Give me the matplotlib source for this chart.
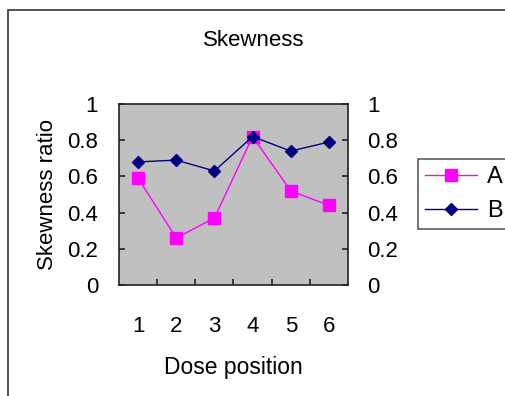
import matplotlib
matplotlib.use('Agg')
import matplotlib.pyplot as plt
from matplotlib.patches import Rectangle
from matplotlib.ticker import FixedLocator, NullFormatter

plt.rcParams['font.family'] = ['Liberation Sans', 'DejaVu Sans']

positions = [1, 2, 3, 4, 5, 6]
pos_labels = ['1', '2', '3', '4', '5', '6']
series_a = [0.59, 0.26, 0.37, 0.82, 0.52, 0.44]
series_b = [0.68, 0.69, 0.63, 0.82, 0.74, 0.79]
y_ticks = [0, 0.2, 0.4, 0.6, 0.8, 1]
y_labels = ['0', '0.2', '0.4', '0.6', '0.8', '1']

W, H = 506, 396
fig = plt.figure(figsize=(W / 100, H / 100), dpi=100)

# outer chart border, only left and top edges fall inside the image
fig.patches.append(Rectangle((8 / W, -0.1), 1.2, 1.1 - 10 / H, transform=fig.transFigure,
                             fill=False, edgecolor='#333333', linewidth=1.2))

ax = fig.add_axes([119 / W, 1 - 285 / H, (348 - 119) / W, (285 - 104) / H])
ax.set_facecolor('#c0c0c0')
for s in ax.spines.values():
    s.set_color('#222222')
    s.set_linewidth(1.2)

ax.plot(positions, series_a, color='#ff00ff', lw=1, marker='s', ms=8,
        markerfacecolor='#ff00ff', markeredgecolor='#ff00ff', label='A')
ax.plot(positions, series_b, color='#000080', lw=1, marker='D', ms=6.5,
        markerfacecolor='#000080', markeredgecolor='#000080', label='B')

ax.set_xlim(0.5, 6.5)
ax.set_ylim(0, 1)
ax.xaxis.set_major_locator(FixedLocator([1.5, 2.5, 3.5, 4.5, 5.5]))
ax.xaxis.set_major_formatter(NullFormatter())
ax.xaxis.set_minor_locator(FixedLocator(positions))
ax.set_xticklabels(pos_labels, minor=True)
ax.tick_params(axis='x', which='major', direction='in', length=4.5, width=1.2, color='#222222')
ax.tick_params(axis='x', which='minor', length=0, pad=22, labelsize=16)

ax.set_yticks(y_ticks)
ax.set_yticklabels(y_labels)
ax.tick_params(axis='y', direction='in', length=4.5, width=1.2, color='#222222',
               labelsize=16, pad=15)

ax2 = ax.twinx()
ax2.set_ylim(0, 1)
ax2.set_yticks(y_ticks)
ax2.set_yticklabels(y_labels)
ax2.tick_params(axis='y', direction='in', length=4.5, width=1.2, color='#222222',
                labelsize=16, pad=14)
for s in ax2.spines.values():
    s.set_visible(False)

ax.set_ylabel('Skewness ratio', fontsize=16, labelpad=7)
ax.set_xlabel('Dose position', fontsize=16.5, labelpad=14)
fig.text(254 / W, 1 - 40 / H, 'Skewness', fontsize=16, ha='center', va='center')

leg = fig.legend(loc='center', bbox_to_anchor=(464 / W, 1 - 194 / H), fontsize=17,
                 frameon=True, fancybox=False, edgecolor='#333333', handlelength=2.2,
                 handletextpad=0.4, borderpad=0.3, labelspacing=0.5)
leg.get_frame().set_linewidth(1.2)

fig.savefig('out.png', dpi=100)
